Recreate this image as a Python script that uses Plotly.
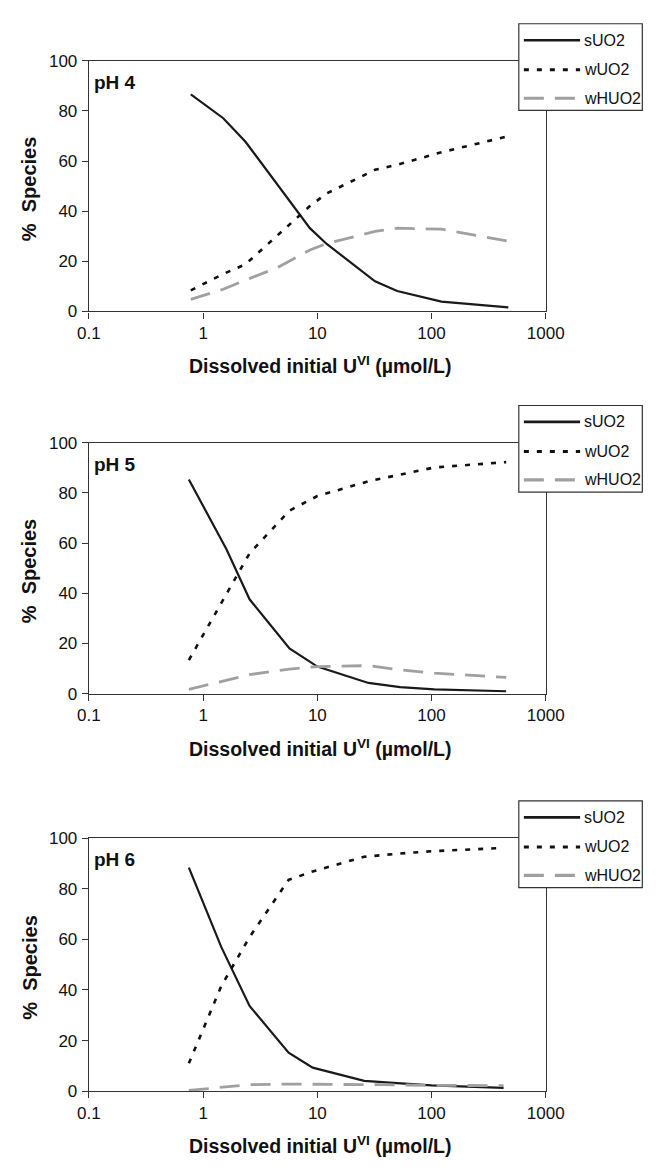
import plotly.graph_objects as go

W, H = 662, 1174

# ---------------- data ----------------
series_names = ["sUO2", "wUO2", "wHUO2"]
panel_labels = ["pH 4", "pH 5", "pH 6"]
x_tickvals = [0.1, 1, 10, 100, 1000]
x_ticktext = ["0.1", "1", "10", "100", "1000"]
y_tickvals = [0, 20, 40, 60, 80, 100]

x_ph4 = [0.78, 1.5, 2.35, 4.5, 8.6, 12, 32, 50, 122, 470]
s_ph4 = [86.6, 77.1, 67.7, 50.5, 33.2, 27.0, 12.0, 8.1, 3.9, 1.6]
w_ph4 = [8.4, 14.9, 18.8, 30.5, 42.0, 47.0, 56.5, 58.5, 63.5, 69.9]
h_ph4 = [4.8, 8.8, 12.5, 17.5, 24.5, 27.0, 31.9, 33.2, 32.8, 28.0]

x_ph5 = [0.75, 1.6, 2.55, 5.7, 10, 28, 53, 106, 450]
s_ph5 = [85.3, 57.5, 37.6, 18.0, 10.8, 4.3, 2.6, 1.7, 1.0]
w_ph5 = [13.4, 40.0, 55.9, 72.9, 78.7, 84.6, 87.2, 90.1, 92.2]
h_ph5 = [1.7, 5.2, 7.6, 9.8, 10.8, 11.2, 9.5, 8.2, 6.5]

x_ph6 = [0.75, 1.44, 2.55, 5.6, 9.1, 25.7, 50, 100, 427]
s_ph6 = [88.3, 57.0, 33.7, 15.2, 9.3, 4.1, 3.2, 2.3, 1.3]
w_ph6 = [11.0, 41.5, 60.9, 83.5, 86.8, 92.6, 93.8, 94.8, 96.1]
h_ph6 = [0.3, 1.6, 2.6, 2.8, 2.8, 2.6, 2.5, 2.3, 2.2]

panels = [
    (x_ph4, s_ph4, w_ph4, h_ph4),
    (x_ph5, s_ph5, w_ph5, h_ph5),
    (x_ph6, s_ph6, w_ph6, h_ph6),
]

# ---------------- styles ----------------
styles = {
    "sUO2": dict(color="#1a1a1a", width=2.2, dash="solid"),
    "wUO2": dict(color="#111111", width=2.6, dash="5px,8px"),
    "wHUO2": dict(color="#a0a0a0", width=2.8, dash="20px,11px"),
}
FONT = "Liberation Sans, Arial, sans-serif"

# plot-area pixel geometry (top, bottom) per panel
plot_left, plot_right = 80.7, 560.0
plot_tb = [(52.7, 307.3), (440.7, 696.0), (842.7, 1100.0)]


def px(xp):
    return xp / W


def py(yp):
    return 1 - yp / H


fig = go.Figure()
shapes = []
annotations = []

for i, (xs, s, w, h) in enumerate(panels):
    n = "" if i == 0 else str(i + 1)
    top, bot = plot_tb[i]
    for name, ys in zip(series_names, (s, w, h)):
        st = styles[name]
        fig.add_trace(go.Scatter(
            x=xs, y=ys, mode="lines", name=name, showlegend=False,
            line=dict(color=st["color"], width=st["width"], dash=st["dash"]),
            xaxis="x" + n, yaxis="y" + n,
        ))
    axis_common = dict(
        showline=True, mirror=True, linecolor="#333333", linewidth=1.4,
        ticks="outside", ticklen=6, tickcolor="#333333", tickwidth=1,
        showgrid=False, zeroline=False,
        tickfont=dict(family=FONT, size=17, color="#111111"),
    )
    fig.update_layout(**{
        "xaxis" + n: dict(
            type="log", range=[-1, 3], tickvals=x_tickvals, ticktext=x_ticktext,
            domain=[px(plot_left), px(plot_right)], anchor="y" + n,
            **axis_common,
        ),
        "yaxis" + n: dict(
            range=[0, 100], tickvals=y_tickvals,
            domain=[py(bot), py(top)], anchor="x" + n,
            ticklabelstandoff=1,
            **axis_common,
        ),
    })

    # panel label
    annotations.append(dict(
        x=px(84), y=py(top + 22), xref="paper", yref="paper",
        text="<b>" + panel_labels[i] + "</b>", showarrow=False,
        xanchor="left", yanchor="middle",
        font=dict(family=FONT, size=19, color="#111111"),
    ))
    # y-axis title
    annotations.append(dict(
        x=px(18), y=py((top + bot) / 2 + 3), xref="paper", yref="paper",
        text="<b>%\u00a0\u00a0Species</b>", showarrow=False, textangle=-90,
        xanchor="center", yanchor="middle",
        font=dict(family=FONT, size=20, color="#111111"),
    ))
    # x-axis title
    annotations.append(dict(
        x=px(324), y=py(bot + 55), xref="paper", yref="paper",
        text="<b>Dissolved initial U<sup>VI</sup> (µmol/L)</b>", showarrow=False,
        xanchor="center", yanchor="middle",
        font=dict(family=FONT, size=19.5, color="#111111"),
    ))

    # custom legend box
    shapes.append(dict(
        type="rect", xref="paper", yref="paper", layer="above",
        x0=px(531.7), x1=px(661.3), y0=py(top - 37.7), y1=py(top + 50.3),
        line=dict(color="#333333", width=1.2), fillcolor="white",
    ))
    for k, name in enumerate(series_names):
        yy = top + [-21, 9, 38][k]
        st = styles[name]
        shapes.append(dict(
            type="line", xref="paper", yref="paper", layer="above",
            x0=px(537), x1=px(596), y0=py(yy), y1=py(yy),
            line=dict(color=st["color"], width=st["width"] + 0.4, dash=st["dash"]),
        ))
        annotations.append(dict(
            x=px(598), y=py(yy), xref="paper", yref="paper",
            text=name, showarrow=False, xanchor="left", yanchor="middle",
            font=dict(family=FONT, size=16, color="#111111"),
        ))

fig.update_layout(
    width=W, height=H,
    margin=dict(l=0, r=0, t=0, b=0),
    paper_bgcolor="white", plot_bgcolor="white",
    showlegend=False,
    shapes=shapes, annotations=annotations,
)

fig.write_html("out.html")
